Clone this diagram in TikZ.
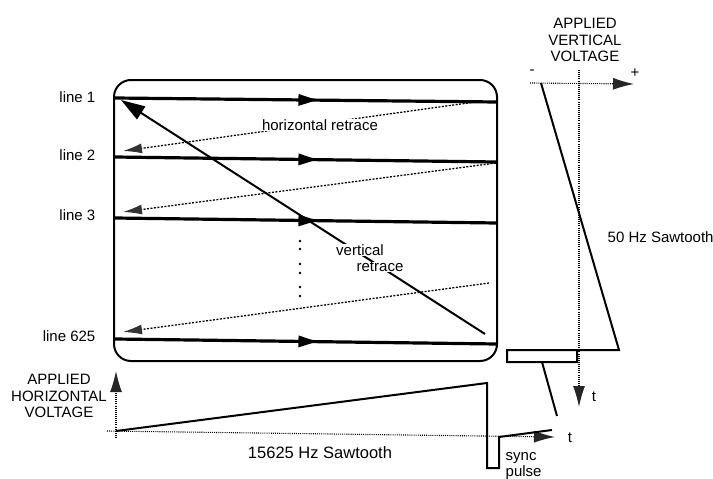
\documentclass[tikz,border=0pt]{standalone}
\usepackage{fontspec}
\setmainfont{Liberation Sans}
\usetikzlibrary{positioning,arrows.meta,decorations.markings}

\begin{document}
\begin{tikzpicture}[x=1pt,y=-1pt,
			lbl/.style={font=\fontsize{15}{16.5}\selectfont, inner sep=0.5pt},
			scan/.style={line width=3.2pt, postaction={decorate},
				decoration={markings, mark=at position 0.53 with {\arrow{Triangle[length=19pt,width=11pt]}}}},
			hretrace/.style={line width=1.3pt, dash pattern=on 2pt off 1.5pt,
				-{Latex[length=19pt,width=10pt,color=black!80]}},
			vretrace/.style={line width=2pt, -{Triangle[length=24pt,width=15pt]}},
			axis/.style={line width=1.1pt, dash pattern=on 1pt off 1.1pt,
				-{Latex[length=21pt,width=12pt,color=black!85]}},
			wave/.style={line width=2pt, line join=miter}
		]
		\useasboundingbox (0,0) rectangle (713,479);

		% Screen
		\draw[line width=2pt, rounded corners=17pt] (114,80) rectangle (497,361);

		% Scan lines
		\coordinate (l1w) at (115,98);   \coordinate (l1e) at (497,102);
		\coordinate (l2w) at (115,157);  \coordinate (l2e) at (497,162);
		\coordinate (l3w) at (115,218);  \coordinate (l3e) at (497,223);
		\coordinate (l4w) at (115,339);  \coordinate (l4e) at (497,344);
		\draw[scan] (l1w) -- (l1e);
		\draw[scan] (l2w) -- (l2e);
		\draw[scan] (l3w) -- (l3e);
		\draw[scan] (l4w) -- (l4e);

		% Horizontal retrace
		\coordinate (r1s) at (475,102);  \coordinate (r1e) at (123,151);
		\coordinate (r2s) at (496,163);  \coordinate (r2e) at (123,212);
		\coordinate (r3s) at (489,283);  \coordinate (r3e) at (123,332);
		\draw[hretrace] (r1s) -- (r1e);
		\draw[hretrace] (r2s) -- (r2e);
		\draw[hretrace] (r3s) -- (r3e);

		% Vertical retrace
		\coordinate (vrs) at (485,334);
		\coordinate (vre) at (121,100);
		\draw[vretrace] (vrs) -- (vre);

		% Skipped lines
		\foreach \y in {241,249,264,273,287,296}
			\fill (300,\y) circle (1.3pt);

		% Labels on the screen
		\node[lbl, fill=white] (hrlabel) at (320,125) {horizontal retrace};
		\node[lbl, fill=white] (vrlabel) at (360,250) {vertical};
		\node[lbl, fill=white] (vrlabel2) at (380,267) {retrace};

		\node[lbl, anchor=east] (line1) at (96,97) {line 1};
		\node[lbl, anchor=east] (line2) at (96,155) {line 2};
		\node[lbl, anchor=east] (line3) at (96,215) {line 3};
		\node[lbl, anchor=east] (line625) at (96,336) {line 625};

		% Horizontal deflection
		\coordinate (hxl) at (107,431);  \coordinate (hxr) at (555,437);
		\coordinate (hyb) at (116,438);  \coordinate (hyt) at (116,371);
		\draw[axis] (hxl) -- (hxr);
		\draw[axis] (hyb) -- (hyt);
		\coordinate (hstart) at (116,431);
		\coordinate (hpeak) at (487,383);
		\coordinate (hsyncbl) at (487,468);
		\coordinate (hsyncbr) at (499,468);
		\coordinate (hsynctr) at (499,437);
		\coordinate (hnext) at (552,430);
		\draw[wave] (hstart) -- (hpeak) -- (hsyncbl) -- (hsyncbr) -- (hsynctr) -- (hnext);

		\node[lbl, align=center] (hvolt) at (59,396) {APPLIED\\HORIZONTAL\\VOLTAGE};
		\node[lbl, font=\fontsize{16.5}{18}\selectfont] (hsaw) at (320,453) {15625 Hz Sawtooth};
		\node[lbl] (ht) at (570,438) {t};
		\node[lbl, align=left, anchor=west] (sync) at (505,466) {sync\\pulse};

		% Vertical deflection
		\coordinate (vxl) at (530,83);   \coordinate (vxr) at (634,84);
		\coordinate (vyt) at (579,70);   \coordinate (vyb) at (579,407);
		\draw[axis] (vxl) -- (vxr);
		\draw[axis] (vyt) -- (vyb);
		\coordinate (vstart) at (541,83);
		\coordinate (vpeak) at (619,350);
		\coordinate (vsynctl) at (507,350);
		\coordinate (vsyncbl) at (507,362);
		\coordinate (vsyncbr) at (577,362);
		\coordinate (vsynctr) at (577,350);
		\coordinate (vnexts) at (542,362);
		\coordinate (vnext) at (557,416);
		\draw[wave] (vstart) -- (vpeak) -- (vsynctl) -- (vsyncbl) -- (vsyncbr) -- (vsynctr);
		\draw[wave] (vnexts) -- (vnext);

		\node[lbl, align=center] (vvolt) at (585,40) {APPLIED\\VERTICAL\\VOLTAGE};
		\node[lbl, anchor=west] (vsaw) at (607,237) {50 Hz Sawtooth};
		\node[lbl] (vminus) at (532,72) {-};
		\node[lbl] (vplus) at (635,73) {+};
		\node[lbl] (vt) at (594,397) {t};
	\end{tikzpicture}
\end{document}
